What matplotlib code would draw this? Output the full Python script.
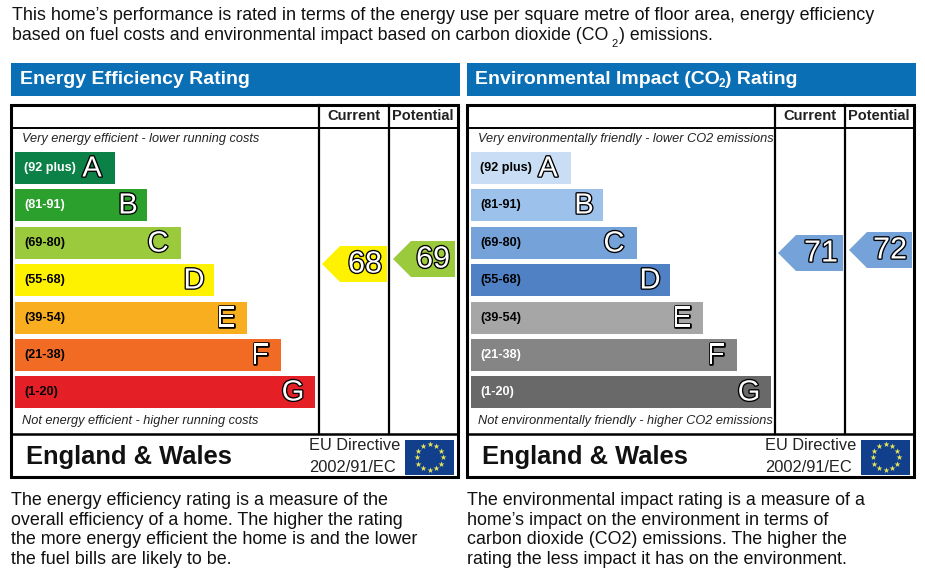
import numpy as np
import matplotlib
matplotlib.use("Agg")
import matplotlib.pyplot as plt
import matplotlib.patheffects as pe
from matplotlib.patches import Polygon, Rectangle

plt.rcParams["font.family"] = ["Liberation Sans", "DejaVu Sans"]

# band data, shared by both panels
bands = ["A", "B", "C", "D", "E", "F", "G"]
ranges = ["(92 plus)", "(81-91)", "(69-80)", "(55-68)", "(39-54)", "(21-38)", "(1-20)"]
band_len = [100, 132, 166, 199, 232, 266, 300]
eer_colors = ["#0b8148", "#2ca02c", "#9bcb3c", "#fff200", "#f9ae1f", "#f26b24", "#e41f26"]
eir_colors = ["#c9def5", "#9cc2ec", "#75a2d8", "#4f81c4", "#a6a6a6", "#858585", "#696969"]
eer_text = ["white", "white", "black", "black", "black", "black", "black"]
eir_text = ["black", "black", "black", "black", "black", "white", "white"]

eer_current, eer_potential = 68, 69
eir_current, eir_potential = 71, 72

intro_1 = "This home\u2019s performance is rated in terms of the energy use per square metre of floor area, energy efficiency"
intro_2 = "based on fuel costs and environmental impact based on carbon dioxide (CO"
eer_note = ("The energy efficiency rating is a measure of the\n"
            "overall efficiency of a home. The higher the rating\n"
            "the more energy efficient the home is and the lower\n"
            "the fuel bills are likely to be.")
eir_note = ("The environmental impact rating is a measure of a\n"
            "home\u2019s impact on the environment in terms of\n"
            "carbon dioxide (CO2) emissions. The higher the\n"
            "rating the less impact it has on the environment.")

W, H = 925, 572
fig = plt.figure(figsize=(W / 100, H / 100), dpi=100)
ax = fig.add_axes([0, 0, 1, 1])
ax.set_xlim(0, W)
ax.set_ylim(H, 0)
ax.axis("off")

BLUE = "#0a6fb4"
BAR_TOPS = [152, 189, 227, 264, 302, 339, 376]
LETTER_INSET = [23, 19, 23, 20, 21, 21, 22]


def outlined(x, y, s, size, ha="center"):
    ax.text(x, y, s, fontsize=size, color="white", ha=ha, va="center", zorder=6,
            path_effects=[pe.withStroke(linewidth=1.9, foreground="black")])


def arrow(x0, x1, top, value, color):
    mid = top + 18
    pts = [(x0, mid), (x0 + 18, top), (x1, top), (x1, top + 36), (x0 + 18, top + 36)]
    ax.add_patch(Polygon(pts, closed=True, fc=color, ec="none", zorder=4))
    outlined(x1 - 22, mid + 0.5, str(value), 22)


def eu_flag(x0, y0):
    ax.add_patch(Rectangle((x0, y0), 49, 35, fc="#123f8c", ec="none", zorder=4))
    ang = np.linspace(0, 2 * np.pi, 12, endpoint=False)
    ax.scatter(x0 + 24.5 + 13 * np.cos(ang), y0 + 17.5 + 13 * np.sin(ang), marker="*",
               s=20, c="#e6e65a", linewidths=0, zorder=5)


def panel(x0, top_note, bottom_note, colors, text_cols, current, potential, cur_y, pot_y, cur_col, pot_col, note):
    # banner
    ax.add_patch(Rectangle((x0, 63), 449, 33, fc=BLUE, ec="none"))

    # frame and grid
    ax.add_patch(Rectangle((x0, 104.5), 447, 372.5, fc="none", ec="black", lw=2.2, zorder=3))
    ax.plot([x0, x0 + 447], [127.5, 127.5], color="black", lw=1.4, zorder=3)
    ax.plot([x0, x0 + 447], [434, 434], color="black", lw=1.8, zorder=3)
    for vx in (x0 + 308, x0 + 378):
        ax.plot([vx, vx], [104.5, 434], color="black", lw=1.6, zorder=3)
    ax.text(x0 + 343, 116.5, "Current", fontsize=10.6, fontweight="bold", ha="center", va="center", color="#222222")
    ax.text(x0 + 412, 116.5, "Potential", fontsize=10.5, fontweight="bold", ha="center", va="center", color="#222222")

    ax.text(x0 + 10.5, 139, top_note, fontsize=9.2, style="italic", va="center", color="#222222")
    ax.text(x0 + 10.5, 421, bottom_note, fontsize=9.2, style="italic", va="center", color="#222222")

    # bands
    bx = x0 + 4
    ax.barh(BAR_TOPS, band_len, height=32, left=bx, align="edge", color=colors, zorder=2)
    for top, length, inset, letter, rng, tc in zip(BAR_TOPS, band_len, LETTER_INSET, bands, ranges, text_cols):
        ax.text(bx + 9, top + 16, rng, fontsize=9.1, fontweight="bold", color=tc, va="center", zorder=4)
        outlined(bx + length - inset, top + 16.5, letter, 21)

    arrow(x0 + 311, x0 + 376, cur_y, current, cur_col)
    arrow(x0 + 382, x0 + 444 + (1 if x0 > 100 else 0), pot_y, potential, pot_col)

    # footer
    ax.text(x0 + 15, 457, "England & Wales", fontsize=18.4, fontweight="bold", va="center", color="#111111")
    ax.text(x0 + 298, 446, "EU Directive", fontsize=11.8, va="center", color="#222222")
    ax.text(x0 + 298, 467, "2002/91/EC", fontsize=11.8, va="center", color="#222222")
    eu_flag(x0 + 394, 439.5)

    ax.text(x0, 530, note, fontsize=12.9, va="center", color="#111111", linespacing=1.19)


panel(11, "Very energy efficient - lower running costs",
      "Not energy efficient - higher running costs", eer_colors, eer_text,
      eer_current, eer_potential, 246, 241, eer_colors[3], eer_colors[2], eer_note)
panel(467, "Very environmentally friendly - lower CO2 emissions",
      "Not environmentally friendly - higher CO2 emissions", eir_colors, eir_text,
      eir_current, eir_potential, 235, 232, eir_colors[2], eir_colors[2], eir_note)

# banner titles
ax.text(20, 79, "Energy Efficiency Rating", fontsize=14, fontweight="bold", color="white", va="center")
ax.text(475, 79, "Environmental Impact (CO", fontsize=14, fontweight="bold", color="white", va="center")
ax.text(719, 84, "2", fontsize=8.5, fontweight="bold", color="white", va="center")
ax.text(725, 79, ") Rating", fontsize=14, fontweight="bold", color="white", va="center")

# intro paragraph, split so the subscript sits on its own
ax.text(12, 16, intro_1, fontsize=12.85, va="center", color="#111111")
ax.text(12, 35.5, intro_2, fontsize=12.75, va="center", color="#111111")
ax.text(611.5, 44, "2", fontsize=8, va="center", color="#111111")
ax.text(619, 35.5, ") emissions.", fontsize=12.7, va="center", color="#111111")

fig.savefig("out.png", dpi=100)
